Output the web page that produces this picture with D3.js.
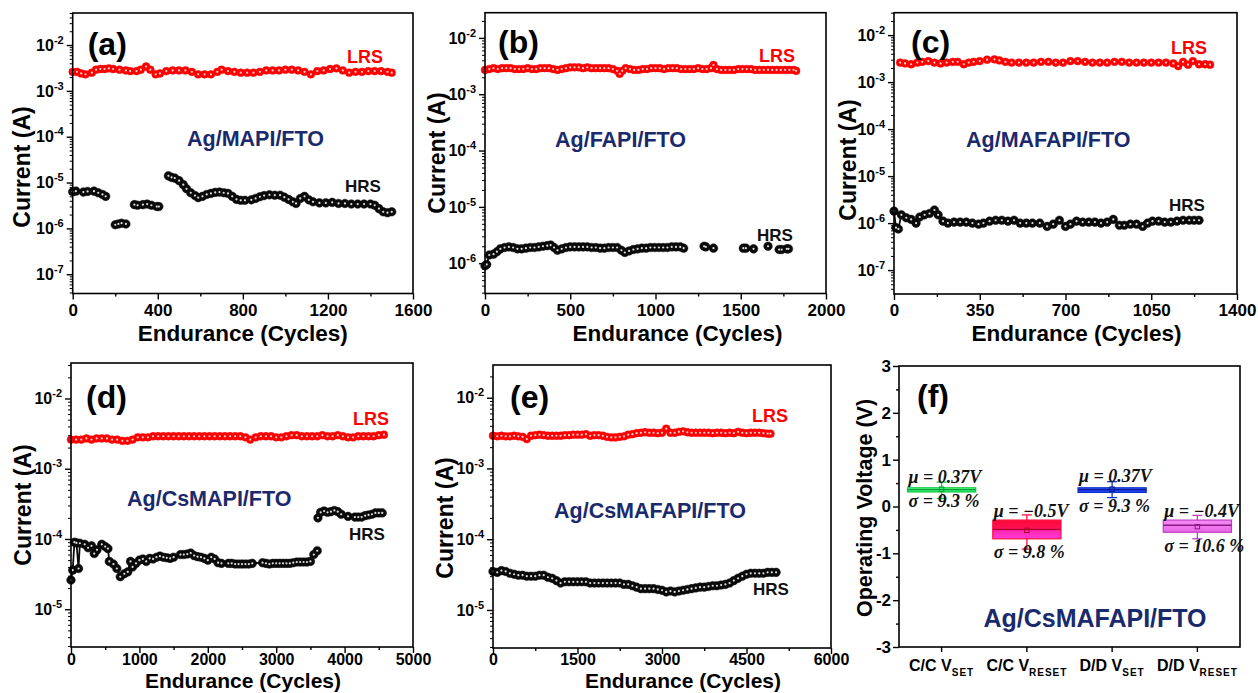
<!DOCTYPE html>
<html><head><meta charset="utf-8">
<script src="https://cdn.jsdelivr.net/npm/d3@7"></script>
<style>body{margin:0;background:#fff}svg{display:block}</style>
</head><body>
<svg id="chart" width="1258" height="693"></svg>
<script>
// ---------------- DATA ----------------
// [cycle, LRS current in mA] / [cycle, HRS current in µA]; null = gap
const aLRS = [[0,2.6],[20,2.6],[40,2.4],[60,2.3],[90,2.5],[110,2.9],[130,3.0],[150,3.0],[170,3.1],[190,3.0],[220,2.9],[250,2.8],[270,2.7],[300,2.7],[320,2.9],[345,3.4],[365,2.9],[390,2.3],[410,2.4],[440,2.7],[470,2.8],[500,2.8],[530,2.8],[560,2.6],[590,2.3],[620,2.3],[650,2.3],[680,2.6],[700,2.9],[730,2.7],[760,2.6],[790,2.5],[820,2.5],[850,2.5],[880,2.6],[910,2.8],[940,2.8],[970,2.8],[1000,2.9],[1030,2.9],[1060,2.8],[1090,2.6],[1120,2.3],[1150,2.7],[1180,2.8],[1210,3.0],[1240,3.1],[1270,2.8],[1300,2.5],[1330,2.6],[1360,2.6],[1390,2.7],[1420,2.7],[1450,2.7],[1480,2.6],[1500,2.5]];
const aHRS = [[0,6.3],[15,6.5],[50,6.2],[70,6.4],[100,6.5],[120,6.0],[140,5.5],[155,5.0],[175,null],
  [200,1.2],[215,1.25],[230,1.3],[250,1.25],[270,null],
  [290,3.3],[305,3.2],[330,3.3],[350,3.4],[370,3.2],[395,3.0],[405,3.0],[430,null],
  [450,14],[465,13],[480,12.5],[500,11],[520,9],[535,7.3],[555,6],[575,5.2],[590,4.7],[610,5.0],[630,5.5],[650,5.8],[670,6.1],[690,6.2],[710,6.0],[730,5.8],[750,5.0],[770,4.3],[790,4.1],[810,4.1],[840,4.2],[860,4.5],[880,4.9],[900,5.2],[925,5.4],[950,5.3],[975,5.3],[995,4.8],[1015,4.3],[1035,3.8],[1050,3.5],[1070,4.5],[1090,5.0],[1110,4.2],[1130,3.8],[1160,3.6],[1190,3.6],[1220,3.7],[1250,3.5],[1280,3.5],[1310,3.4],[1340,3.4],[1370,3.4],[1400,3.4],[1420,3.2],[1440,2.7],[1460,2.3],[1480,2.2],[1500,2.3]];

const bLRS = [[0,2.7],[25,2.8],[50,2.9],[75,2.8],[100,2.9],[125,2.9],[150,2.9],[175,2.8],[200,2.8],[225,2.8],[250,2.9],[275,2.8],[300,2.8],[325,2.9],[350,2.9],[375,2.9],[400,2.8],[425,2.7],[450,2.8],[475,2.9],[500,3.0],[525,3.0],[550,3.0],[575,2.9],[600,3.0],[625,2.9],[650,2.9],[675,2.9],[700,2.9],[725,2.9],[750,2.8],[775,2.6],[790,2.3],[805,2.6],[825,2.9],[850,2.8],[875,2.7],[900,2.7],[925,2.8],[950,2.8],[975,2.9],[1000,2.9],[1025,2.9],[1050,2.8],[1075,2.9],[1100,2.9],[1125,2.9],[1150,2.8],[1175,2.8],[1200,2.8],[1225,2.8],[1250,2.9],[1275,2.8],[1300,2.8],[1325,2.9],[1340,3.3],[1360,2.8],[1385,2.7],[1410,2.7],[1435,2.7],[1460,2.7],[1485,2.8],[1510,2.8],[1535,2.8],[1560,2.8],[1585,2.7],[1610,2.7],[1635,2.7],[1660,2.7],[1685,2.7],[1710,2.7],[1735,2.7],[1760,2.7],[1785,2.7],[1810,2.7],[1825,2.6]];
const bHRS = [[0,0.9],[10,0.95],[25,1.4],[50,1.45],[70,1.6],[90,1.8],[115,1.9],[140,1.95],[165,1.9],[190,1.8],[215,1.8],[240,1.85],[265,1.9],[290,1.9],[315,1.95],[340,2.0],[365,2.05],[385,2.1],[405,1.9],[425,1.7],[450,1.8],[475,1.9],[500,1.95],[525,1.95],[550,1.95],[575,1.95],[600,1.95],[625,1.9],[650,1.9],[675,1.85],[700,1.85],[725,1.9],[750,1.9],[775,1.9],[800,1.7],[820,1.55],[845,1.65],[870,1.75],[895,1.8],[920,1.85],[945,1.85],[970,1.9],[995,1.9],[1020,1.9],[1045,1.9],[1070,1.9],[1095,1.95],[1120,1.95],[1145,1.95],[1165,1.85],[1200,null],
  [1285,2.0],[1295,1.95],[1315,null],[1340,1.85],[1400,null],[1515,1.85],[1530,1.85],[1550,null],[1575,1.8],[1620,null],[1660,2.0],[1700,null],[1725,1.75],[1740,1.75],[1755,null],[1770,1.8],[1780,1.8]];

const cLRS = [[25,2.6],[45,2.5],[70,2.4],[95,2.6],[115,2.7],[140,2.8],[165,2.6],[190,2.5],[215,2.6],[240,2.7],[260,2.7],[285,2.4],[305,2.6],[325,2.7],[350,2.8],[380,3.0],[410,3.05],[430,2.9],[455,2.7],[480,2.6],[510,2.6],[540,2.6],[570,2.6],[600,2.7],[630,2.7],[660,2.6],[690,2.6],[720,2.8],[750,2.8],[780,2.7],[810,2.6],[840,2.6],[870,2.6],[900,2.7],[930,2.7],[960,2.6],[990,2.6],[1020,2.6],[1050,2.6],[1080,2.6],[1110,2.6],[1140,2.5],[1160,2.2],[1180,2.7],[1200,2.35],[1220,2.8],[1245,2.4],[1270,2.4],[1290,2.35]];
const cHRS = [[0,1.8],[8,0.8],[18,0.75],[30,1.5],[50,1.3],[70,1.2],[90,1.0],[105,1.35],[125,1.5],[145,1.6],[165,1.9],[180,1.5],[200,1.1],[220,1.0],[245,1.05],[270,1.05],[295,1.05],[320,1.0],[345,0.95],[365,1.0],[390,1.1],[415,1.15],[440,1.15],[465,1.1],[490,1.15],[515,1.0],[540,1.0],[565,1.0],[595,1.0],[625,0.85],[650,0.95],[675,1.15],[700,0.85],[720,0.95],[745,1.1],[770,1.05],[795,1.05],[820,1.05],[845,1.0],[870,1.05],[895,1.2],[920,0.9],[940,0.9],[965,0.95],[990,0.95],[1015,0.85],[1035,1.0],[1055,1.1],[1080,1.1],[1105,1.05],[1130,1.05],[1155,1.1],[1180,1.15],[1205,1.15],[1225,1.15],[1245,1.15]];

const dLRS = [[0,2.6],[75,2.6],[150,2.6],[225,2.7],[300,2.6],[375,2.7],[450,2.7],[525,2.7],[600,2.6],[675,2.6],[750,2.5],[825,2.5],[900,2.6],[975,2.8],[1050,2.8],[1125,2.8],[1200,2.9],[1275,2.9],[1350,2.9],[1425,2.9],[1500,2.9],[1575,2.9],[1650,2.9],[1725,2.9],[1800,2.9],[1875,2.9],[1950,2.9],[2025,2.9],[2100,2.9],[2175,2.9],[2250,2.9],[2325,2.9],[2400,2.9],[2475,2.9],[2550,2.8],[2620,2.6],[2700,2.8],[2775,2.9],[2850,2.9],[2925,2.9],[3000,2.8],[3075,2.8],[3150,2.9],[3225,3.0],[3300,3.0],[3375,2.9],[3450,2.9],[3525,2.9],[3600,2.9],[3675,3.0],[3750,2.9],[3825,2.9],[3900,3.0],[3975,2.9],[4050,2.8],[4125,2.8],[4200,2.9],[4275,2.9],[4350,2.9],[4425,2.9],[4500,3.0],[4575,3.05]];
const dHRS = [[0,26],[25,36],[50,90],[80,88],[110,38],[130,87],[200,84],[250,75],[300,80],[340,62],[380,70],[450,84],[500,78],[540,73],[560,48],[620,44],[670,38],[720,29],[780,32],[830,34],[870,48],[900,40],[950,45],[1000,50],[1050,52],[1100,48],[1150,53],[1200,52],[1250,55],[1300,57],[1350,55],[1400,54],[1450,53],[1500,55],[1600,60],[1650,60],[1700,61],[1750,63],[1800,58],[1850,56],[1900,55],[1950,53],[2000,50],[2050,55],[2100,52],[2150,46],[2200,45],[2300,45],[2350,45],[2400,44],[2450,44],[2500,44],[2550,44],[2600,44],[2650,45],[2800,46],[2850,45],[2900,44],[2950,45],[3000,45],[3050,45],[3100,45],[3150,45],[3200,45],[3250,46],[3300,47],[3350,47],[3400,47],[3450,47],[3500,48],[3550,60],[3600,68],[3605,null],
  [3610,200],[3650,240],[3700,250],[3750,240],[3800,245],[3850,255],[3900,245],[3950,225],[4050,210],[4150,205],[4200,205],[4250,205],[4300,215],[4350,220],[4400,225],[4450,235],[4500,235],[4550,235]];

const eLRS = [[0,2.9],[75,2.85],[150,2.9],[225,2.85],[300,2.85],[375,2.9],[450,2.85],[525,2.8],[600,2.6],[675,2.9],[750,2.95],[825,3.0],[900,2.95],[975,2.9],[1050,2.9],[1125,2.9],[1200,2.9],[1275,2.95],[1350,2.95],[1425,3.0],[1500,3.0],[1575,3.0],[1650,3.05],[1725,2.9],[1800,2.95],[1875,2.95],[1950,2.9],[2025,2.8],[2100,2.75],[2175,2.75],[2250,2.8],[2325,2.85],[2400,3.0],[2475,3.05],[2550,3.15],[2625,3.2],[2700,3.25],[2775,3.2],[2850,3.2],[2925,3.15],[3000,3.2],[3075,3.65],[3150,3.2],[3225,3.2],[3300,3.3],[3375,3.35],[3450,3.25],[3525,3.2],[3600,3.2],[3675,3.2],[3750,3.2],[3825,3.2],[3900,3.15],[3975,3.2],[4050,3.2],[4125,3.15],[4200,3.2],[4275,3.15],[4350,3.3],[4425,3.2],[4500,3.15],[4575,3.2],[4650,3.2],[4725,3.2],[4800,3.15],[4875,3.1],[4925,3.1]];
const eHRS = [[0,35],[75,34],[150,36],[225,35],[300,33],[375,32],[450,31],[525,31],[600,30],[675,30],[750,30],[825,31],[900,31],[975,29],[1050,28],[1125,26],[1200,24],[1275,25],[1350,25],[1425,25],[1500,25],[1575,25],[1650,25],[1725,24],[1800,24],[1875,24],[1950,24],[2025,24],[2100,24],[2175,24],[2250,24],[2325,23],[2400,23],[2475,22],[2550,21],[2625,20],[2700,20],[2775,20],[2850,20],[2925,19.5],[3000,19],[3075,18],[3150,18.5],[3225,18],[3300,18.5],[3375,19],[3450,19.5],[3525,20],[3600,20.5],[3675,21],[3750,21],[3825,21.5],[3900,22],[3975,22],[4050,22.5],[4125,23],[4200,24],[4275,26],[4350,28],[4425,30],[4500,32],[4575,33],[4650,33],[4725,33],[4800,33],[4875,34],[4950,34],[5025,34]];

// Panel (f): operating voltage statistics
const fCats   = ["C/C V", "C/C V", "D/D V", "D/D V"];
const fSubs   = ["SET", "RESET", "SET", "RESET"];
const fQ1     = [0.31, -0.69, 0.30, -0.55];
const fQ3     = [0.40, -0.29, 0.40, -0.29];
const fMedian = [0.36, -0.49, 0.36, -0.40];
const fMean   = [0.37, -0.51, 0.37, -0.43];
const fLow    = [0.17, -0.91, 0.19, -0.69];
const fHigh   = [0.52, -0.18, 0.53, -0.19];
const fMu     = ["μ = 0.37V", "μ = −0.5V", "μ = 0.37V", "μ = −0.4V"];
const fSigma  = ["σ = 9.3 %", "σ = 9.8 %", "σ = 9.3 %", "σ = 10.6 %"];
const fYTicks = [-3, -2, -1, 0, 1, 2, 3];

// ---------------- DRAWING ----------------
const svg = d3.select("#chart");
const FONT = "'Liberation Sans', Arial, sans-serif";
const NAVY = "#1a2a6c";
const defs = svg.append("defs");

function styleAxis(ax, size) {
  ax.select(".domain").attr("stroke","none");
  ax.selectAll(".tick line").attr("stroke","#000").attr("stroke-width",1.4);
  ax.selectAll(".tick text").attr("fill","#000").attr("font-family",FONT).attr("font-weight","bold").attr("font-size",size||17);
}

function logPanel(o) {
  const g = svg.append("g");
  const x = d3.scaleLinear().domain(o.xDomain).range([o.left, o.right]);
  const y = d3.scaleLog().domain(o.yDomain).range([o.bottom, o.top]);

  // x axis
  const xa = g.append("g").attr("transform",`translate(0,${o.bottom})`)
    .call(d3.axisBottom(x).tickValues(o.xTicks).tickSize(6).tickPadding(o.xPad).tickFormat(d3.format("d")));
  styleAxis(xa, o.xTickSize);
  const xm = g.append("g").attr("transform",`translate(0,${o.bottom})`)
    .call(d3.axisBottom(x).tickValues(o.xTicks.slice(0,-1).map((t,i)=>(t+o.xTicks[i+1])/2)).tickSize(3).tickFormat(""));
  styleAxis(xm);

  // y axis (log)
  const lo = Math.floor(Math.log10(o.yDomain[0])), hi = Math.ceil(Math.log10(o.yDomain[1]));
  const majors = [], minors = [];
  for (let k = lo; k <= hi; k++) {
    const v = Math.pow(10,k);
    if (v >= o.yDomain[0] && v <= o.yDomain[1]) majors.push(v);
    for (let m = 2; m <= 9; m++) { const mv = m*v; if (mv >= o.yDomain[0] && mv <= o.yDomain[1]) minors.push(mv); }
  }
  const ya = g.append("g").attr("transform",`translate(${o.left},0)`)
    .call(d3.axisLeft(y).tickValues(majors).tickSize(6).tickPadding(3).tickFormat(""));
  styleAxis(ya, 16);
  ya.selectAll(".tick text").each(function(d){
    const t = d3.select(this);
    t.append("tspan").text("10");
    t.append("tspan").attr("dy",-7).attr("font-size",11).text(String(Math.round(Math.log10(d))));
  });
  const ym = g.append("g").attr("transform",`translate(${o.left},0)`)
    .call(d3.axisLeft(y).tickValues(minors).tickSize(3).tickFormat(""));
  styleAxis(ym);
  ym.selectAll(".tick line").attr("stroke-width",1);

  // series: connecting line + filled sphere-like markers with a white highlight
  function series(data, unit, color, r, hl) {
    const pts = data.map(d => [d[0], d[1] == null ? null : d[1]*unit]);
    const line = d3.line().defined(d => d[1] != null).x(d => x(d[0])).y(d => y(d[1]));
    g.append("path").attr("d", line(pts)).attr("fill","none").attr("stroke",color).attr("stroke-width",1.8);
    const valid = pts.filter(d => d[1] != null);
    const mg = g.append("g");
    mg.selectAll("circle.m").data(valid).join("circle").attr("class","m")
      .attr("cx", d => x(d[0])).attr("cy", d => y(d[1])).attr("r", r)
      .attr("fill", color).attr("stroke", color).attr("stroke-width", 0.5);
    mg.selectAll("circle.h").data(valid).join("circle").attr("class","h")
      .attr("cx", d => x(d[0])).attr("cy", d => y(d[1])).attr("r", 1.1)
      .attr("fill", hl);
  }
  series(o.hrs, 1e-6, "#0a0a0a", 4.3, "#dddddd");
  series(o.lrs, 1e-3, "#ff0000", 3.9, "#ffd0d0");

  // frame
  g.append("rect").attr("x",o.left).attr("y",o.top).attr("width",o.right-o.left).attr("height",o.bottom-o.top)
    .attr("fill","none").attr("stroke","#000").attr("stroke-width",1.6);

  // texts
  const txt = (s, xx, yy, size, color, anchor) => g.append("text").text(s).attr("x",xx).attr("y",yy)
    .attr("font-family",FONT).attr("font-weight","bold").attr("font-size",size).attr("fill",color)
    .attr("text-anchor",anchor||"start");
  txt(o.label, o.left + o.labelDx, o.labelY, 32, "#000");
  txt("LRS", o.lrsX, o.lrsY, 18, "#ff0000");
  txt("HRS", o.hrsX, o.hrsY, 17, "#111");
  txt(o.device, o.devX, o.devY, 21.5, NAVY);
  txt("Endurance (Cycles)", (o.left+o.right)/2 + o.xTitleDx, o.xTitleY, o.xTitleSize, "#000", "middle");
  g.append("text").text("Current (A)").attr("transform",`translate(${o.yTitleX},${o.yTitleY}) rotate(-90)`)
    .attr("dy","0.35em").attr("text-anchor","middle").attr("font-family",FONT).attr("font-weight","bold")
    .attr("font-size",23).attr("fill","#000");
}

logPanel({left:72.7,right:413,top:13,bottom:293.5,xDomain:[0,1600],xTicks:[0,400,800,1200,1600],xPad:4,xTickSize:17,
  yDomain:[3.8e-8,5e-2],lrs:aLRS,hrs:aHRS,label:"(a)",labelDx:15,labelY:55,lrsX:347,lrsY:63,hrsX:345,hrsY:192,
  device:"Ag/MAPI/FTO",devX:187,devY:146,xTitleDx:0,xTitleY:341,xTitleSize:22.5,yTitleX:22,yTitleY:167});
logPanel({left:485,right:826,top:12.7,bottom:293.5,xDomain:[0,2000],xTicks:[0,500,1000,1500,2000],xPad:4,xTickSize:17,
  yDomain:[2.9e-7,2.8e-2],lrs:bLRS,hrs:bHRS,label:"(b)",labelDx:13,labelY:53,lrsX:759,lrsY:62,hrsX:757,hrsY:241,
  device:"Ag/FAPI/FTO",devX:555,devY:147,xTitleDx:22,xTitleY:341,xTitleSize:22.5,yTitleX:437,yTitleY:153});
logPanel({left:894,right:1237,top:12.7,bottom:294,xDomain:[0,1400],xTicks:[0,350,700,1050,1400],xPad:4,xTickSize:17,
  yDomain:[3.1e-8,3e-2],lrs:cLRS,hrs:cHRS,label:"(c)",labelDx:17,labelY:53,lrsX:1171,lrsY:54,hrsX:1169,hrsY:211,
  device:"Ag/MAFAPI/FTO",devX:966,devY:147,xTitleDx:11,xTitleY:341,xTitleSize:22.5,yTitleX:848,yTitleY:160});
logPanel({left:71,right:413,top:363,bottom:647,xDomain:[0,5000],xTicks:[0,1000,2000,3000,4000,5000],xPad:1,xTickSize:16,
  yDomain:[2.9e-6,3.2e-2],lrs:dLRS,hrs:dHRS,label:"(d)",labelDx:15,labelY:408,lrsX:353,lrsY:425,hrsX:349,hrsY:540,
  device:"Ag/CsMAPI/FTO",devX:127,devY:506,xTitleDx:1,xTitleY:688,xTitleSize:21,yTitleX:23,yTitleY:505});
logPanel({left:493,right:831,top:365,bottom:648,xDomain:[0,6000],xTicks:[0,1500,3000,4500,6000],xPad:0,xTickSize:16,
  yDomain:[2.9e-6,2.9e-2],lrs:eLRS,hrs:eHRS,label:"(e)",labelDx:17,labelY:408,lrsX:752,lrsY:422,hrsX:753,hrsY:595,
  device:"Ag/CsMAFAPI/FTO",devX:554,devY:518,xTitleDx:21,xTitleY:688,xTitleSize:21,yTitleX:445,yTitleY:518});

// ---------- Panel (f) ----------
(function(){
  const L = 899, R = 1240, T = 366, B = 647;
  const g = svg.append("g");
  const x = d3.scaleBand().domain(d3.range(fCats.length)).range([L, R]);
  const y = d3.scaleLinear().domain([-3, 3]).range([B, T]);

  const ya = g.append("g").attr("transform",`translate(${L},0)`)
    .call(d3.axisLeft(y).tickValues(fYTicks).tickSize(6).tickPadding(2).tickFormat(d => String(d)));
  styleAxis(ya, 17);
  const ym = g.append("g").attr("transform",`translate(${L},0)`)
    .call(d3.axisLeft(y).tickValues(fYTicks.slice(0,-1).map(v=>v+0.5)).tickSize(3).tickFormat(""));
  styleAxis(ym);
  const xa = g.append("g").attr("transform",`translate(0,${B})`)
    .call(d3.axisBottom(x).tickSize(5).tickPadding(8).tickFormat(""));
  styleAxis(xa, 16);
  xa.selectAll(".tick text").each(function(i){
    const t = d3.select(this);
    t.append("tspan").text(fCats[i]);
    t.append("tspan").attr("dy",5).attr("font-size",10).attr("letter-spacing",1).text(fSubs[i]);
  });

  // gradients for boxes
  const mk = (id, stops) => { const lg = defs.append("linearGradient").attr("id",id).attr("x1",0).attr("y1",0).attr("x2",0).attr("y2",1);
    stops.forEach(s => lg.append("stop").attr("offset",s[0]).attr("stop-color",s[1])); };
  mk("fg0", [["0%","#66ff99"],["100%","#22ee66"]]);
  mk("fg1", [["0%","#ff0838"],["40%","#ff1050"],["62%","#ff2ab8"],["100%","#ff38d8"]]);
  mk("fg2", [["0%","#3355ff"],["100%","#1a3aee"]]);
  mk("fg3", [["0%","#f78cf7"],["100%","#e866e8"]]);
  const edge = ["#11cc44", "#ff1040", "#1030d0", "#c03cc0"];
  const dark = ["#0a9a30", "#b0002a", "#0a1a90", "#8a1a8a"];

  const bw = x.bandwidth() * 0.8;
  fCats.forEach((c, i) => {
    const cx = x(i) + x.bandwidth()/2, x0 = cx - bw/2;
    g.append("line").attr("x1",cx).attr("x2",cx).attr("y1",y(fHigh[i])).attr("y2",y(fLow[i])).attr("stroke",edge[i]).attr("stroke-width",1.3);
    [fHigh[i], fLow[i]].forEach(v => g.append("line").attr("x1",cx-5).attr("x2",cx+5).attr("y1",y(v)).attr("y2",y(v)).attr("stroke",edge[i]).attr("stroke-width",1.3));
    g.append("rect").attr("x",x0).attr("width",bw).attr("y",y(fQ3[i])).attr("height",y(fQ1[i])-y(fQ3[i]))
      .attr("fill",`url(#fg${i})`).attr("stroke",edge[i]).attr("stroke-width",1.2);
    g.append("line").attr("x1",x0).attr("x2",x0+bw).attr("y1",y(fMedian[i])).attr("y2",y(fMedian[i])).attr("stroke",dark[i]).attr("stroke-width",1.3);
    g.append("rect").attr("x",cx-2.2).attr("y",y(fMean[i])-2.2).attr("width",4.4).attr("height",4.4).attr("fill","none").attr("stroke",dark[i]).attr("stroke-width",1);
  });

  // annotations
  const muY = [0.50, -0.22, 0.52, -0.22], sgY = [-0.01, -1.10, -0.12, -0.97];
  fCats.forEach((c, i) => {
    const x0 = x(i) + x.bandwidth()/2 - bw/2 + 1;
    [[fMu[i], muY[i]], [fSigma[i], sgY[i]]].forEach(([s, v]) =>
      g.append("text").text(s).attr("x", x0).attr("y", y(v)).attr("font-family","'Liberation Serif','Times New Roman',serif")
        .attr("font-style","italic").attr("font-weight","bold").attr("font-size",18).attr("fill","#111"));
  });

  g.append("rect").attr("x",L).attr("y",T).attr("width",R-L).attr("height",B-T).attr("fill","none").attr("stroke","#000").attr("stroke-width",1.6);
  g.append("text").text("(f)").attr("x",L+18).attr("y",407).attr("font-family",FONT).attr("font-weight","bold").attr("font-size",32);
  g.append("text").text("Ag/CsMAFAPI/FTO").attr("x",1095).attr("y",627).attr("text-anchor","middle")
    .attr("font-family",FONT).attr("font-weight","bold").attr("font-size",25).attr("fill",NAVY);
  g.append("text").text("Operating Voltage (V)").attr("transform",`translate(864,508) rotate(-90)`).attr("dy","0.35em")
    .attr("text-anchor","middle").attr("font-family",FONT).attr("font-weight","bold").attr("font-size",21.5).attr("fill","#000");
})();
</script>
</body></html>
